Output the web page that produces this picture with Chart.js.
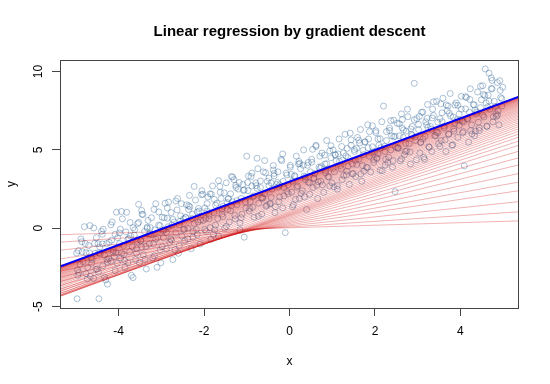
<!DOCTYPE html>
<html>
<head>
<meta charset="utf-8">
<script src="https://cdn.jsdelivr.net/npm/chart.js@4"></script>
<style>
  body { margin: 0; background: #fff; }
  canvas { display: block; }
</style>
</head>
<body>
<canvas id="chart" width="550" height="384"></canvas>
<script>
// axis ranges and ticks
const xRange = [-5.37, 5.37];
const yRange = [-5.09, 10.74];
const xTicks = [-4, -2, 0, 2, 4];
const yTicks = [-5, 0, 5, 10];

// observations [x, y], estimated from the cloud
const points = [
  [-4.97,-4.5],[-4.94,-1.43],[-4.90,-2.3],[-4.85,-1.5],[-4.80,0.1],[-4.76,-2.9],[-4.70,-1.1],[-4.67,0.17],[-4.62,-2.0],[-4.58,-3.2],
  [-4.55,-1.6],[-4.52,-0.6],[-4.50,-2.6],[-4.46,-4.5],[-4.95,-3.0],[-4.72,-2.5],[-4.64,-1.9],
  [-4.44,-1.2],[-4.40,-0.2],[-4.37,-2.4],[-4.33,-1.7],[-4.30,-3.3],[-4.26,-3.57],[-4.22,-0.9],[-4.18,-2.1],[-4.15,0.4],[-4.12,-1.4],
  [-4.08,-2.7],[-4.05,1.02],[-4.02,-0.6],[-4.38,-1.0],[-4.27,-2.0],[-4.10,-1.8],[-4.47,-2.8],
  [-3.98,-0.3],[-3.95,-1.9],[-3.91,0.6],[-3.88,-1.1],[-3.85,-2.5],[-3.81,1.02],[-3.78,-0.7],[-3.74,-1.5],[-3.70,-3.0],[-3.66,-3.15],
  [-3.62,-0.1],[-3.58,-1.3],[-3.55,0.3],[-3.53,1.53],[-3.51,-2.2],[-3.93,-1.6],[-3.72,-0.5],[-3.60,-2.0],
  [-3.48,-0.8],[-3.45,0.9],[-3.42,-1.7],[-3.39,-0.2],[-3.35,-2.6],[-3.31,0.5],[-3.28,-1.0],[-3.24,-0.4],[-3.20,-1.9],[-3.17,1.2],
  [-3.13,-0.7],[-3.10,-2.49],[-3.06,0.2],[-3.03,-1.4],[-3.46,-1.2],[-3.33,0.0],[-3.15,-0.1],[-3.01,-2.2],
  [-2.98,0.7],[-2.95,-0.6],[-2.91,1.6],[-2.88,-1.3],[-2.84,0.1],[-2.80,-0.9],[-2.77,1.0],[-2.73,-2.0],[-2.70,0.4],[-2.66,-0.3],
  [-2.62,1.9],[-2.58,-1.1],[-2.55,0.8],[-2.52,-0.5],[-2.93,-0.1],[-2.75,0.2],[-2.60,-1.6],[-2.86,1.3],
  [-2.48,0.6],[-2.45,-0.8],[-2.41,1.5],[-2.38,0.0],[-2.34,2.1],[-2.30,-1.3],[-2.27,0.9],[-2.23,0.3],[-2.20,1.8],[-2.16,-0.4],
  [-2.12,1.1],[-2.09,-1.0],[-2.05,2.4],[-2.02,0.5],[-2.43,0.7],[-2.25,-0.2],[-2.14,0.4],[-2.36,1.2],
  [-1.98,1.3],[-1.95,-0.2],[-1.91,2.0],[-1.88,0.6],[-1.84,-0.7],[-1.80,2.7],[-1.77,1.0],[-1.73,0.2],[-1.70,1.6],[-1.66,-0.5],
  [-1.62,2.3],[-1.58,0.9],[-1.55,1.4],[-1.52,0.0],[-1.93,1.1],[-1.75,-0.1],[-1.60,1.9],[-1.86,2.2],
  [-1.48,2.9],[-1.45,1.2],[-1.41,0.4],[-1.38,2.2],[-1.34,1.7],[-1.30,3.1],[-1.27,0.6],[-1.23,1.5],[-1.20,2.5],[-1.16,-0.1],
  [-1.13,1.9],[-1.09,2.8],[-1.06,-0.57],[-1.02,1.3],[-1.00,4.6],[-1.43,1.9],[-1.25,2.6],[-1.11,0.9],[-1.36,3.3],
  [-0.97,2.4],[-0.94,1.1],[-0.90,3.3],[-0.86,2.0],[-0.83,0.7],[-0.79,2.9],[-0.76,4.47],[-0.72,1.6],[-0.68,2.6],[-0.65,0.9],
  [-0.61,3.6],[-0.58,2.2],[-0.55,1.4],[-0.52,3.0],[-0.92,1.7],[-0.74,3.8],[-0.63,1.9],[-0.88,2.7],
  [-0.48,3.2],[-0.45,1.6],[-0.41,2.5],[-0.38,4.0],[-0.34,1.0],[-0.30,2.8],[-0.27,3.6],[-0.23,2.0],[-0.20,4.4],[-0.16,1.3],
  [-0.13,2.6],[-0.10,-0.28],[-0.06,3.4],[-0.03,2.2],[-0.43,2.9],[-0.25,1.7],[-0.15,3.0],[-0.36,3.5],
  [0.02,3.9],[0.05,2.3],[0.09,1.5],[0.12,3.3],[0.16,4.6],[0.19,2.7],[0.23,1.9],[0.26,3.8],[0.30,2.4],[0.33,5.0],
  [0.37,3.1],[0.40,1.2],[0.44,4.2],[0.47,2.9],[0.07,3.0],[0.21,4.1],[0.35,2.0],[0.49,3.6],
  [0.52,4.4],[0.55,2.6],[0.59,3.5],[0.62,5.3],[0.66,1.9],[0.69,3.9],[0.73,3.0],[0.76,4.8],[0.80,2.3],[0.83,4.1],
  [0.87,5.6],[0.90,3.3],[0.94,2.7],[0.97,4.5],[0.57,3.2],[0.71,4.6],[0.85,3.7],[0.99,2.9],
  [1.02,5.0],[1.05,3.6],[1.09,4.3],[1.12,2.5],[1.16,5.7],[1.19,4.0],[1.23,3.1],[1.26,4.8],[1.30,6.0],[1.33,3.4],
  [1.37,4.5],[1.40,2.8],[1.44,5.3],[1.47,4.1],[1.07,4.7],[1.21,3.8],[1.35,5.1],[1.49,3.5],
  [1.52,4.9],[1.55,3.3],[1.59,5.8],[1.62,4.4],[1.66,6.3],[1.69,3.0],[1.73,4.7],[1.76,5.5],[1.80,3.9],[1.83,6.6],
  [1.87,4.6],[1.90,3.6],[1.94,5.2],[1.97,4.2],[1.57,5.1],[1.71,4.0],[1.85,5.7],[1.99,4.9],
  [2.02,6.1],[2.05,4.5],[2.09,5.3],[2.12,3.7],[2.16,6.8],[2.20,7.8],[2.23,4.9],[2.27,5.6],[2.30,4.2],[2.34,6.4],
  [2.37,5.0],[2.41,3.9],[2.44,6.9],[2.47,2.34],[2.07,5.7],[2.25,4.4],[2.39,5.9],[2.48,5.2],
  [2.52,6.7],[2.55,5.1],[2.59,4.3],[2.62,7.3],[2.66,5.8],[2.69,4.7],[2.73,6.2],[2.76,7.6],[2.80,5.4],[2.83,4.1],
  [2.87,6.5],[2.92,9.25],[2.95,5.6],[2.98,7.0],[2.57,5.9],[2.71,4.9],[2.85,6.0],[2.64,6.4],
  [3.02,6.3],[3.05,4.8],[3.09,7.4],[3.12,5.7],[3.16,4.4],[3.19,6.8],[3.23,7.9],[3.26,5.2],[3.30,6.5],[3.33,4.9],
  [3.37,7.2],[3.40,5.9],[3.44,8.1],[3.47,6.1],[3.07,5.5],[3.21,6.6],[3.35,7.6],[3.49,5.4],
  [3.52,7.0],[3.55,5.6],[3.59,8.3],[3.62,6.4],[3.66,4.9],[3.69,7.5],[3.73,6.0],[3.76,8.6],[3.80,5.3],[3.83,7.1],
  [3.87,6.7],[3.90,8.0],[3.94,5.8],[3.97,7.3],[3.57,6.8],[3.71,7.8],[3.85,6.2],[3.99,6.9],
  [4.02,7.6],[4.05,6.1],[4.09,3.98],[4.12,8.4],[4.16,7.0],[4.19,5.5],[4.23,8.9],[4.26,6.6],[4.30,7.9],[4.33,5.9],
  [4.37,7.3],[4.40,8.7],[4.44,6.4],[4.47,7.7],[4.07,6.8],[4.21,7.4],[4.35,6.2],[4.49,8.2],
  [4.52,9.1],[4.55,7.1],[4.58,10.17],[4.62,6.5],[4.65,8.5],[4.69,7.6],[4.72,9.6],[4.76,6.8],[4.79,8.1],[4.83,7.3],
  [4.86,9.3],[4.90,6.6],[4.93,8.8],[4.97,7.8],[4.60,8.0],[4.74,8.9],[4.88,7.5],[4.99,9.0],[4.67,9.9],
  // denser part of the band
  [-4.98,-1.58],[-4.93,-2.83],[-4.88,-0.68],[-4.83,-2.13],[-4.78,-0.98],[-4.73,-3.23],[-4.68,-1.58],[-4.63,-2.23],[-4.58,0.02],[-4.53,-2.63],
  [-4.48,-0.98],[-4.43,-1.63],[-4.38,-0.38],[-4.33,-3.13],[-4.28,-0.98],[-4.23,-1.93],[-4.18,0.22],[-4.13,-1.53],[-4.08,-0.38],[-4.03,-2.23],
  [-3.98,-0.98],[-3.93,1.07],[-3.88,-1.68],[-3.83,-0.23],[-3.78,-2.18],[-3.73,0.37],[-3.68,-1.18],[-3.63,-0.43],[-3.58,-1.58],[-3.53,0.37],
  [-3.48,-0.78],[-3.43,0.87],[-3.38,-1.98],[-3.33,0.07],[-3.28,-0.38],[-3.23,0.67],[-3.18,-0.98],[-3.13,1.57],[-3.08,-0.58],[-3.03,0.17],
  [-2.98,-1.18],[-2.93,0.67],[-2.88,-0.28],[-2.83,1.67],[-2.78,-0.68],[-2.73,0.57],[-2.68,-1.38],[-2.63,1.17],[-2.58,0.22],[-2.53,1.57],
  [-2.48,-0.08],[-2.43,0.67],[-2.38,-0.68],[-2.33,1.37],[-2.28,0.62],[-2.23,2.67],[-2.18,-0.08],[-2.13,1.27],[-2.08,0.52],[-2.03,2.17],
  [-1.98,-0.08],[-1.93,1.57],[-1.88,0.82],[-1.83,2.17],[-1.78,-0.38],[-1.73,1.47],[-1.68,0.62],[-1.63,2.67],[-1.58,1.22],[-1.53,2.27],
  [-1.48,0.12],[-1.43,1.87],[-1.38,1.12],[-1.33,3.27],[-1.28,0.82],[-1.23,1.77],[-1.18,2.92],[-1.13,0.67],[-1.08,2.42],[-1.03,1.67],
  [-0.98,2.92],[-0.93,1.27],[-0.88,3.52],[-0.83,2.07],[-0.78,2.72],[-0.73,0.77],[-0.68,3.02],[-0.63,1.97],[-0.58,4.32],[-0.53,1.47],
  [-0.48,2.72],[-0.43,1.97],[-0.38,3.72],[-0.33,1.37],[-0.28,2.92],[-0.23,2.77],[-0.18,4.32],[-0.13,2.07],[-0.08,3.52],[-0.03,2.77],
  [0.02,4.02],[0.07,1.37],[0.12,3.37],[0.17,2.62],[0.22,4.27],[0.27,2.22],[0.32,4.02],[0.37,3.27],[0.42,4.02],[0.47,2.17],
  [0.52,4.22],[0.57,3.17],[0.62,5.22],[0.67,2.97],[0.72,3.82],[0.77,2.77],[0.82,4.67],[0.87,4.12],[0.92,3.27],[0.97,5.27],
  [1.02,3.82],[1.07,4.67],[1.12,2.72],[1.17,4.27],[1.22,5.22],[1.27,3.37],[1.32,4.62],[1.37,3.97],[1.42,6.07],[1.47,3.47],
  [1.52,5.02],[1.57,4.07],[1.62,5.62],[1.67,3.47],[1.72,4.97],[1.77,5.52],[1.82,3.87],[1.87,6.17],[1.92,4.82],[1.97,4.37],
  [2.02,6.22],[2.07,4.77],[2.12,5.72],[2.17,3.67],[2.22,5.22],[2.27,6.17],[2.32,4.52],[2.37,6.87],[2.42,4.32],[2.47,5.87],
  [2.52,5.12],[2.57,6.67],[2.62,4.42],[2.67,6.27],[2.72,5.42],[2.77,7.12],[2.82,4.87],[2.87,5.92],[2.92,6.92],[2.97,4.37],
  [3.02,6.62],[3.07,5.47],[3.12,7.42],[3.17,5.87],[3.22,7.02],[3.27,5.17],[3.32,6.32],[3.37,8.07],[3.42,5.92],[3.47,6.77],
  [3.52,5.22],[3.57,7.37],[3.62,6.52],[3.67,7.87],[3.72,6.02],[3.77,7.17],[3.82,5.32],[3.87,7.87],[3.92,6.92],[3.97,6.57],
  [4.02,8.42],[4.07,6.17],[4.12,7.62],[4.17,6.97],[4.22,8.22],[4.27,6.02],[4.32,7.87],[4.37,7.42],[4.42,6.77],[4.47,9.07],
  [4.52,7.22],[4.57,8.47],[4.62,6.52],[4.67,8.12],[4.72,8.92],[4.77,7.12],[4.82,7.77],[4.87,7.22],[4.92,9.42],[4.97,8.27],
  [-4.96,-2.66],[-4.86,-0.86],[-4.76,-1.56],[-4.66,-3.06],[-4.56,-0.96],[-4.46,-1.56],[-4.36,-0.06],[-4.26,-2.16],[-4.16,-0.76],[-4.06,-1.56],
  [-3.96,-0.06],[-3.86,-2.06],[-3.76,-0.66],[-3.66,0.04],[-3.56,-0.86],[-3.46,1.14],[-3.36,-1.16],[-3.26,0.04],[-3.16,-1.76],[-3.06,1.04],
  [-2.96,-0.16],[-2.86,0.64],[-2.76,-0.76],[-2.66,1.74],[-2.56,0.44],[-2.46,-0.06],[-2.36,1.44],[-2.26,-0.56],[-2.16,1.04],[-2.06,2.14],
  [-1.96,0.64],[-1.86,0.04],[-1.76,1.84],[-1.66,3.04],[-1.56,0.74],[-1.46,1.64],[-1.36,1.44],[-1.26,2.74],[-1.16,0.34],[-1.06,2.44],
  [-0.96,3.34],[-0.86,1.34],[-0.76,2.54],[-0.66,1.94],[-0.56,3.54],[-0.46,1.54],[-0.36,3.34],[-0.26,2.64],[-0.16,4.74],[-0.06,2.34],
  [0.04,3.44],[0.14,1.84],[0.24,4.14],[0.34,3.34],[0.44,2.94],[0.54,5.04],[0.64,2.74],[0.74,3.94],[0.84,3.54],[0.94,4.94],
  [1.04,2.64],[1.14,4.74],[1.24,4.34],[1.34,3.64],[1.44,5.64],[1.54,4.34],[1.64,5.44],[1.74,3.64],[1.84,5.14],[1.94,6.54],
  [2.04,4.44],[2.14,5.14],[2.24,4.04],[2.34,6.24],[2.44,5.84],[2.54,5.14],[2.64,6.94],[2.74,4.94],[2.84,6.34],[2.94,5.84],
  [3.04,7.14],[3.14,4.54],[3.24,6.44],[3.34,7.04],[3.44,6.14],[3.54,7.94],[3.64,5.64],[3.74,7.34],[3.84,6.34],[3.94,7.84],
  [4.04,6.84],[4.14,8.34],[4.24,6.24],[4.34,7.54],[4.44,6.24],[4.54,8.54],[4.64,7.74],[4.74,9.44],[4.84,7.14],[4.94,8.34]
];

// gradient descent lines: y at the left and right plot edges
const lineLeft = [
  -0.41, -0.89, -1.40, -1.96, -2.35, -2.74, -3.13, -3.40, -3.66, -3.88,
  -4.01, -4.15, -4.25, -4.31, -4.35, -4.34, -4.28, -4.17, -4.04, -3.92,
  -3.80, -3.69, -3.59, -3.50, -3.42, -3.34, -3.27, -3.20, -3.13, -3.07,
  -3.01, -2.96, -2.91, -2.86, -2.81, -2.77, -2.73, -2.69, -2.66, -2.63,
  -2.60, -2.57, -2.55, -2.53, -2.51, -2.50, -2.49, -2.48, -2.47, -2.47,
  -2.46, -2.46, -2.46, -2.45, -2.45, -2.45, -2.45, -2.45
];
const lineRight = [
  0.47, 1.05, 1.70, 2.40, 2.95, 3.50, 4.05, 4.50, 4.92, 5.30,
  5.57, 5.82, 6.02, 6.20, 6.36, 6.50, 6.63, 6.75, 6.87, 6.98,
  7.08, 7.18, 7.27, 7.36, 7.44, 7.52, 7.59, 7.66, 7.73, 7.79,
  7.85, 7.90, 7.95, 8.00, 8.05, 8.09, 8.13, 8.17, 8.20, 8.23,
  8.26, 8.29, 8.31, 8.33, 8.35, 8.36, 8.37, 8.38, 8.39, 8.39,
  8.39, 8.40, 8.40, 8.40, 8.40, 8.40, 8.40, 8.40
];
// final fit
const fitLeft = -2.45;
const fitRight = 8.40;

const FONT = '"Liberation Sans", Arial, sans-serif';

const datasets = [];

datasets.push({
  data: [{ x: xRange[0], y: fitLeft }, { x: xRange[1], y: fitRight }],
  showLine: true,
  borderColor: '#0000ff',
  borderWidth: 2,
  pointRadius: 0
});

for (let i = lineLeft.length - 1; i >= 0; i--) {
  datasets.push({
    data: [{ x: xRange[0], y: lineLeft[i] }, { x: xRange[1], y: lineRight[i] }],
    showLine: true,
    borderColor: 'rgba(204,0,0,0.3)',
    borderWidth: 1,
    pointRadius: 0
  });
}

datasets.push({
  data: points.map(p => ({ x: p[0], y: p[1] })),
  showLine: false,
  pointRadius: 3,
  pointBorderWidth: 1,
  pointBorderColor: 'rgba(51,102,153,0.4)',
  pointBackgroundColor: 'rgba(0,0,0,0)'
});

// box round the plot and the main title, R style
const framePlugin = {
  id: 'frame',
  afterDraw(chart) {
    const ctx = chart.ctx;
    const a = chart.chartArea;
    ctx.save();
    ctx.strokeStyle = '#444';
    ctx.lineWidth = 1;
    ctx.strokeRect(Math.round(a.left) + 0.5, Math.round(a.top) + 0.5,
      Math.round(a.right - a.left) - 1, Math.round(a.bottom - a.top));
    ctx.fillStyle = '#000';
    ctx.font = 'bold 15px ' + FONT;
    ctx.textAlign = 'center';
    ctx.textBaseline = 'alphabetic';
    ctx.fillText('Linear regression by gradient descent', (a.left + a.right) / 2, 36);
    ctx.restore();
  }
};

new Chart(document.getElementById('chart'), {
  type: 'scatter',
  data: { datasets: datasets },
  options: {
    responsive: false,
    animation: false,
    events: [],
    layout: { padding: { top: 60, right: 31, left: 0, bottom: 0 } },
    plugins: { legend: { display: false }, tooltip: { enabled: false } },
    scales: {
      x: {
        type: 'linear',
        min: xRange[0],
        max: xRange[1],
        afterBuildTicks: s => { s.ticks = xTicks.map(v => ({ value: v })); },
        afterFit: s => { s.height = 76; },
        border: { display: false },
        grid: { drawOnChartArea: false, drawTicks: true, tickLength: 8, color: '#444' },
        ticks: { color: '#000', font: { family: FONT, size: 12 }, padding: 8, maxRotation: 0, autoSkip: false },
        title: { display: true, text: 'x', color: '#000', font: { family: FONT, size: 12 }, padding: { top: 0, bottom: 15 } }
      },
      y: {
        type: 'linear',
        min: yRange[0],
        max: yRange[1],
        afterBuildTicks: s => { s.ticks = yTicks.map(v => ({ value: v })); },
        afterFit: s => { s.width = 60; },
        border: { display: false },
        grid: { drawOnChartArea: false, drawTicks: true, tickLength: 8, color: '#444' },
        ticks: { color: '#000', font: { family: FONT, size: 12 }, padding: 7, minRotation: 90, maxRotation: 90, crossAlign: 'center', autoSkip: false },
        title: { display: true, text: 'y', color: '#000', font: { family: FONT, size: 12 }, padding: { top: 4.5, bottom: 0 } }
      }
    }
  },
  plugins: [framePlugin]
});
</script>
</body>
</html>
